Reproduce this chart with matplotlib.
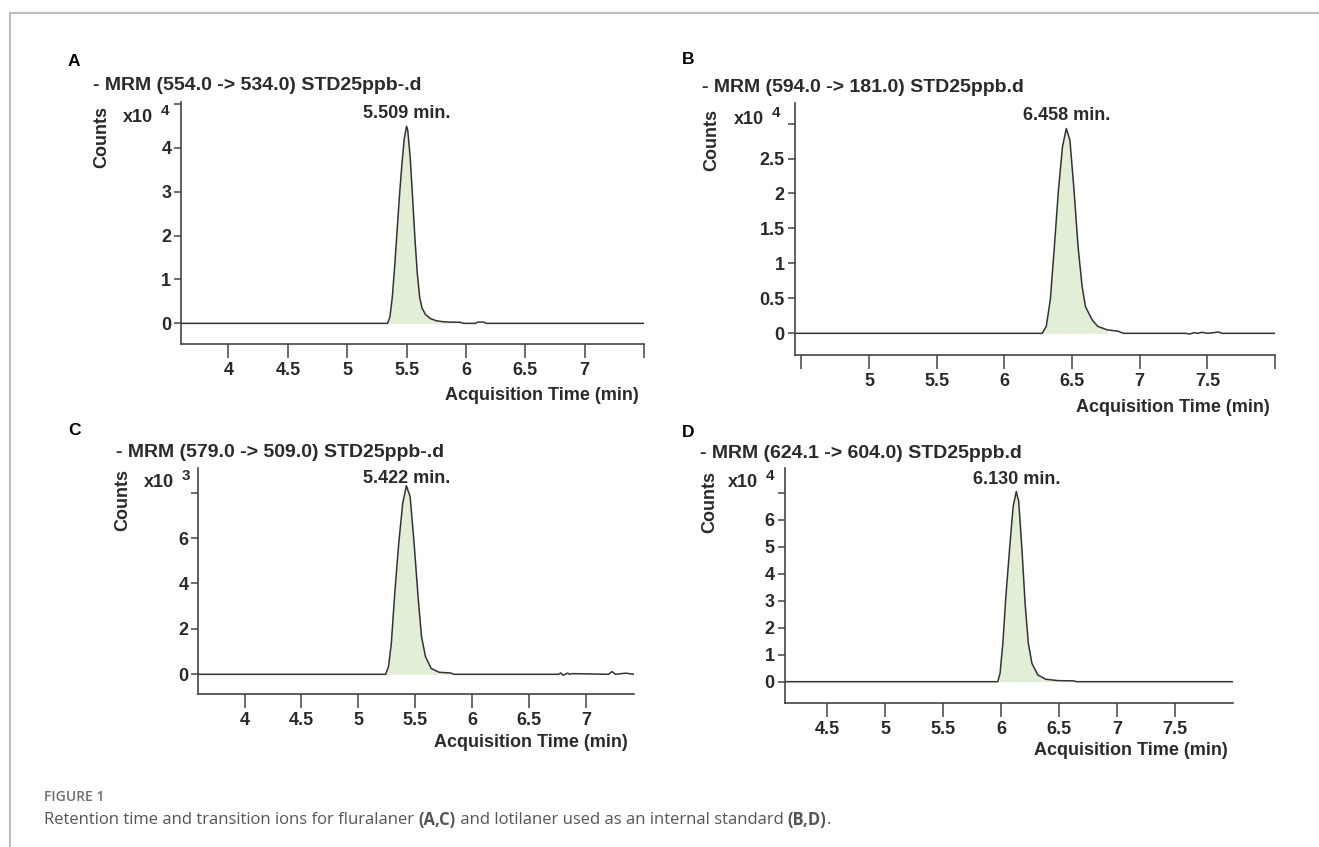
import matplotlib
matplotlib.use('Agg')
import matplotlib.pyplot as plt
from matplotlib.lines import Line2D

# figure size in pixels
W, H = 1319, 847

# ---- data (counts in the x10^n units shown) ----
a_time = [3.6, 5.34, 5.36, 5.38, 5.40, 5.42, 5.44, 5.46, 5.48, 5.50, 5.51, 5.53, 5.55,
          5.57, 5.59, 5.61, 5.63, 5.66, 5.70, 5.75, 5.80, 5.85, 5.95, 5.98, 6.08, 6.10,
          6.15, 6.17, 7.5]
a_counts = [0, 0, 0.15, 0.6, 1.3, 2.1, 2.9, 3.6, 4.2, 4.49, 4.4, 3.8, 2.9,
            1.95, 1.15, 0.6, 0.35, 0.2, 0.11, 0.06, 0.04, 0.03, 0.025, 0, 0, 0.03,
            0.03, 0, 0]

b_time = [4.45, 6.28, 6.31, 6.34, 6.37, 6.40, 6.43, 6.458, 6.485, 6.515, 6.545, 6.575,
          6.60, 6.65, 6.69, 6.76, 6.84, 6.88, 7.34, 7.37, 7.40, 7.43, 7.46, 7.50, 7.55,
          7.58, 7.61, 8.0]
b_counts = [0, 0, 0.1, 0.48, 1.24, 2.05, 2.67, 2.93, 2.76, 2.05, 1.24, 0.67,
            0.38, 0.19, 0.1, 0.05, 0.03, 0, 0, -0.01, 0.01, 0, 0.015, 0, 0.01,
            0.02, 0, 0]

c_time = [3.59, 5.24, 5.265, 5.29, 5.32, 5.355, 5.39, 5.422, 5.455, 5.49, 5.525, 5.555,
          5.59, 5.64, 5.71, 5.81, 5.84, 6.76, 6.78, 6.80, 6.84, 6.86, 6.88, 7.20, 7.23,
          7.26, 7.35, 7.38, 7.42]
c_counts = [0, 0, 0.34, 1.37, 3.57, 5.77, 7.53, 8.3, 7.83, 5.77, 3.42, 1.66,
            0.78, 0.26, 0.09, 0.06, 0, 0, 0.06, -0.04, 0.05, 0, 0.03, 0, 0.12,
            0, 0.05, 0.03, 0]

d_time = [4.13, 5.97, 5.99, 6.014, 6.04, 6.076, 6.103, 6.13, 6.151, 6.179, 6.206, 6.234,
          6.265, 6.316, 6.385, 6.49, 6.625, 6.65, 8.0]
d_counts = [0, 0, 0.31, 1.42, 3.15, 5.12, 6.48, 7.04, 6.67, 4.88, 2.9, 1.42,
            0.68, 0.25, 0.09, 0.04, 0.03, 0, 0]

titles = ['- MRM (554.0 -> 534.0) STD25ppb-.d', '- MRM (594.0 -> 181.0) STD25ppb.d',
          '- MRM (579.0 -> 509.0) STD25ppb-.d', '- MRM (624.1 -> 604.0) STD25ppb.d']
letters = ['A', 'B', 'C', 'D']
peak_labels = ['5.509 min.', '6.458 min.', '5.422 min.', '6.130 min.']
exponents = ['4', '4', '3', '4']

a_xticks = [4, 4.5, 5, 5.5, 6, 6.5, 7, 7.5]
a_xlabels = ['4', '4.5', '5', '5.5', '6', '6.5', '7', '']
b_xticks = [4.5, 5, 5.5, 6, 6.5, 7, 7.5, 8]
b_xlabels = ['', '5', '5.5', '6', '6.5', '7', '7.5', '']
c_xticks = [4, 4.5, 5, 5.5, 6, 6.5, 7]
c_xlabels = ['4', '4.5', '5', '5.5', '6', '6.5', '7']
d_xticks = [4.5, 5, 5.5, 6, 6.5, 7, 7.5]
d_xlabels = ['4.5', '5', '5.5', '6', '6.5', '7', '7.5']

a_yticks = [0, 1, 2, 3, 4, 5]
a_ylabels = ['0', '1', '2', '3', '4', '']
b_yticks = [0, 0.5, 1, 1.5, 2, 2.5, 3]
b_ylabels = ['0', '0.5', '1', '1.5', '2', '2.5', '']
c_yticks = [0, 2, 4, 6, 8]
c_ylabels = ['0', '2', '4', '6', '']
d_yticks = [0, 1, 2, 3, 4, 5, 6, 7]
d_ylabels = ['0', '1', '2', '3', '4', '5', '6', '']

# integration window (shaded part of each peak)
fill_ranges = [(5.34, 5.95), (6.28, 6.76), (5.24, 5.81), (5.97, 6.63)]

TXT = '#2a2a2a'
FILL = '#e2eed6'

plt.rcParams['font.family'] = ['Liberation Sans', 'DejaVu Sans']
plt.rcParams['font.weight'] = 'bold'

fig = plt.figure(figsize=(W / 100, H / 100), dpi=100)


def fx(x):
    return x / W


def fy(y):
    return 1 - y / H


def add_panel(box, xlim, ylim, t, c, xticks, xlabels, yticks, ylabels, frange,
              title, letter, peak, expo, pos):
    x0, y0, x1, y1 = box
    ax = fig.add_axes([fx(x0), fy(y1), (x1 - x0) / W, (y1 - y0) / H])
    ax.set_xlim(xlim)
    ax.set_ylim(ylim)

    mask = [frange[0] <= v <= frange[1] for v in t]
    ax.fill_between(t, c, 0, where=mask, color=FILL, linewidth=0, interpolate=False)
    ax.plot(t, c, color='#333333', lw=1.1)

    # peak apex label
    i = c.index(max(c))
    ax.annotate(peak, (t[i], c[i]), xytext=(0, pos['peak_off']), textcoords='offset points',
                ha='center', va='center', fontsize=13, color=TXT)

    for s in ['top', 'right']:
        ax.spines[s].set_visible(False)
    for s in ['left', 'bottom']:
        ax.spines[s].set_color('#444444')
        ax.spines[s].set_linewidth(1.2)

    ax.set_xticks(xticks)
    ax.set_xticklabels(xlabels)
    ax.set_yticks(yticks)
    ax.set_yticklabels(ylabels)
    ax.tick_params(axis='x', length=10, width=1.1, color='#444444', pad=3,
                   labelsize=13, labelcolor=TXT)
    ax.tick_params(axis='y', length=5, width=1.1, color='#444444', pad=2,
                   labelsize=13, labelcolor=TXT)

    # texts around the panel (pixel positions)
    fig.text(fx(pos['letter'][0]), fy(pos['letter'][1]), letter, ha='left', va='center',
             fontsize=12.5, color='black')
    fig.text(fx(pos['title'][0]), fy(pos['title'][1]), title, ha='left', va='center',
             fontsize=14, color=TXT)
    fig.text(fx(pos['counts'][0]), fy(pos['counts'][1]), 'Counts', rotation=90,
             ha='center', va='center', fontsize=13, color=TXT)
    fig.text(fx(pos['x10'][0]), fy(pos['x10'][1]), 'x10', ha='left', va='center',
             fontsize=13, color=TXT)
    fig.text(fx(pos['x10'][0] + 38), fy(pos['x10'][1] - 6), expo, ha='left',
             va='center', fontsize=11, color=TXT)
    fig.text(fx(x1 - 5.5), fy(pos['acq']), 'Acquisition Time (min)', ha='right',
             va='center', fontsize=13, color=TXT)
    return ax


add_panel((181, 101.7, 644, 344), (3.6, 7.5), (-0.47, 5.05), a_time, a_counts,
          a_xticks, a_xlabels, a_yticks, a_ylabels, fill_ranges[0], titles[0],
          letters[0], peak_labels[0], exponents[0],
          {'letter': (68, 62), 'title': (92.6, 85), 'counts': (102, 137),
           'x10': (123, 117), 'acq': 395, 'peak_off': 9})

add_panel((794.5, 103.3, 1275, 355), (4.45, 8.0), (-0.31, 3.29), b_time, b_counts,
          b_xticks, b_xlabels, b_yticks, b_ylabels, fill_ranges[1], titles[1],
          letters[1], peak_labels[1], exponents[1],
          {'letter': (682, 60), 'title': (702, 87), 'counts': (712, 140),
           'x10': (734, 119), 'acq': 408, 'peak_off': 9})

add_panel((198, 468.3, 633.6, 694.3), (3.59, 7.42), (-0.88, 9.07), c_time, c_counts,
          c_xticks, c_xlabels, c_yticks, c_ylabels, fill_ranges[2], titles[2],
          letters[2], peak_labels[2], exponents[2],
          {'letter': (68, 430), 'title': (115.6, 452), 'counts': (123, 500),
           'x10': (144, 482), 'acq': 742, 'peak_off': 5.5})

add_panel((784.5, 468.3, 1233, 703.3), (4.13, 8.0), (-0.8, 7.9), d_time, d_counts,
          d_xticks, d_xlabels, d_yticks, d_ylabels, fill_ranges[3], titles[3],
          letters[3], peak_labels[3], exponents[3],
          {'letter': (682, 432), 'title': (700, 453), 'counts': (710, 502),
           'x10': (728, 482), 'acq': 750, 'peak_off': 9})

# frame lines of the figure box
fig.add_artist(Line2D([fx(10), fx(10), fx(W)], [fy(H), fy(13), fy(13)],
                      color='#bdbdbd', lw=1.5))

# caption
fig.text(fx(44), fy(797), 'FIGURE 1', ha='left', va='center', fontsize=10,
         family='Open Sans', fontweight='semibold', color='#6e6e6e')

parts = [('Retention time and transition ions for fluralaner ', 'normal'),
         ('(A,C)', 'bold'),
         (' and lotilaner used as an internal standard ', 'normal'),
         ('(B,D)', 'bold'),
         ('.', 'normal')]
renderer = fig.canvas.get_renderer()
x = 44
for txt, wt in parts:
    t = fig.text(fx(x), fy(820), txt, ha='left', va='center', fontsize=12,
                 family='Open Sans', fontweight=wt, color='#555555')
    x = t.get_window_extent(renderer).x1

fig.savefig('out.png', dpi=100)
